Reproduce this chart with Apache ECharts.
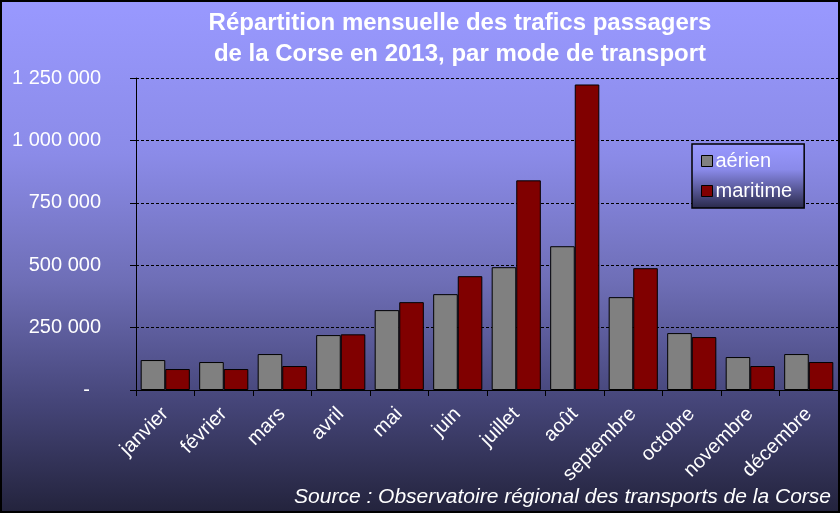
<!DOCTYPE html>
<html lang="fr">
<head>
    <meta charset="UTF-8">
    <title>Trafics passagers Corse 2013</title>
    <script src="https://cdn.jsdelivr.net/npm/echarts@6/dist/echarts.min.js"></script>
    <style>
        html, body { margin: 0; padding: 0; }
        #chart { width: 840px; height: 513px; }
    </style>
</head>
<body>
    <div id="chart"></div>
    <script>
        // données
        const mois = ['janvier', 'février', 'mars', 'avril', 'mai', 'juin', 'juillet', 'août', 'septembre', 'octobre', 'novembre', 'décembre'];
        const aerien = [120000, 112000, 144000, 220000, 320000, 384000, 492000, 576000, 372000, 228000, 132000, 144000];
        const maritime = [84000, 84000, 96000, 223000, 352000, 456000, 840000, 1224000, 488000, 212000, 96000, 112000];
        const yMax = 1250000;
        const yStep = 250000;

        const chart = echarts.init(document.getElementById('chart'));
        const font = 'Liberation Sans, Arial, sans-serif';

        // format "1 250 000", zéro affiché en tiret
        function fmt(v) {
            if (v === 0) return '-  ';
            return String(v).replace(/\B(?=(\d{3})+(?!\d))/g, ' ');
        }

        const option = {
            backgroundColor: new echarts.graphic.LinearGradient(0, 0, 0, 1, [
                { offset: 0, color: '#9999ff' },
                { offset: 0.3, color: '#8b8be8' },
                { offset: 0.55, color: '#6e6eb6' },
                { offset: 0.78, color: '#46467a' },
                { offset: 1, color: '#23233c' }
            ]),
            textStyle: { fontFamily: font },
            title: {
                text: 'Source : Observatoire régional des transports de la Corse',
                right: 9,
                bottom: 5,
                padding: 0,
                textStyle: { color: '#fff', fontSize: 21, fontStyle: 'italic', fontWeight: 'normal' }
            },
            legend: {
                orient: 'vertical',
                left: 692,
                top: 144,
                padding: [7, 12, 7, 9],
                itemWidth: 11,
                itemHeight: 11,
                itemGap: 10,
                icon: 'rect',
                borderColor: '#000',
                borderWidth: 1.5,
                backgroundColor: new echarts.graphic.LinearGradient(0, 0, 0, 1, [
                    { offset: 0, color: '#9999ff' },
                    { offset: 0.4, color: '#8a8aea' },
                    { offset: 1, color: '#282848' }
                ]),
                itemStyle: { borderColor: '#000', borderWidth: 1 },
                textStyle: { color: '#fff', fontSize: 20, padding: [0, 0, 0, -2] },
                data: ['aérien', 'maritime']
            },
            grid: { left: 136, right: 2, top: 78, bottom: 123, containLabel: false },
            xAxis: {
                type: 'category',
                data: mois,
                axisLine: { lineStyle: { color: '#000', width: 1 } },
                axisTick: { show: true, length: 6, lineStyle: { color: '#000' } },
                axisLabel: { color: '#fff', fontSize: 20, rotate: 45, margin: 21, interval: 0 }
            },
            yAxis: {
                type: 'value',
                min: 0,
                max: yMax,
                interval: yStep,
                axisLine: { show: true, lineStyle: { color: '#000', width: 1 } },
                axisTick: { show: true, length: 6, lineStyle: { color: '#000' } },
                axisLabel: { color: '#fff', fontSize: 20, margin: 35, formatter: fmt },
                splitLine: { lineStyle: { color: '#000', width: 1, type: [3, 2] } }
            },
            series: [{
                name: 'aérien',
                type: 'bar',
                data: aerien,
                barGap: '0%',
                barCategoryGap: '16%',
                itemStyle: { color: '#808080', borderColor: '#000', borderWidth: 1 }
            }, {
                name: 'maritime',
                type: 'bar',
                data: maritime,
                itemStyle: { color: '#800000', borderColor: '#000', borderWidth: 1 }
            }],
            graphic: [{
                type: 'text',
                x: 460,
                y: 23,
                style: {
                    text: 'Répartition mensuelle des trafics passagers',
                    textAlign: 'center', textVerticalAlign: 'middle',
                    align: 'center', verticalAlign: 'middle',
                    fill: '#fff', font: 'bold 24px ' + font
                }
            }, {
                type: 'text',
                x: 460,
                y: 54,
                style: {
                    text: 'de la Corse en 2013, par mode de transport',
                    textAlign: 'center', textVerticalAlign: 'middle',
                    align: 'center', verticalAlign: 'middle',
                    fill: '#fff', font: 'bold 24px ' + font
                }
            }, {
                type: 'rect',
                z: 100,
                silent: true,
                shape: { x: 1, y: 1, width: 838, height: 511 },
                style: { fill: 'none', stroke: '#000', lineWidth: 2 }
            }]
        };

        chart.setOption(option);
    </script>
</body>
</html>
